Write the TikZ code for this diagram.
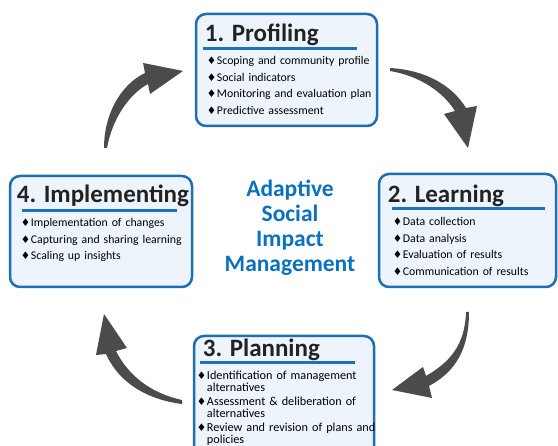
\documentclass[tikz,border=0pt]{standalone}
\usepackage{fontspec}
\setmainfont{Carlito}
\newfontfamily\symfont{DejaVu Sans}
\usetikzlibrary{positioning}

\definecolor{boxblue}{HTML}{1C6EB5}
\definecolor{boxfill}{HTML}{EEF4FC}
\definecolor{lineblue}{HTML}{1F70C1}
\definecolor{coreblue}{HTML}{0A70C0}
\definecolor{titlegray}{HTML}{222222}
\definecolor{arrowgray}{HTML}{4B4B4B}

% diamond bullet for the stage lists
\newcommand{\bul}{\makebox[10pt][l]{\symfont\fontsize{10.5}{10.5}\selectfont ♦}}

\tikzset{
    stagebox/.style={draw=boxblue, line width=2.5pt, fill=boxfill, rounded corners=10pt},
    stagetitle/.style={anchor=base west, inner sep=0pt, text=titlegray, font=\fontsize{25}{25}\selectfont\bfseries},
    stagelist/.style={anchor=base west, inner sep=0pt, text width=200pt, align=left, text=black, font=\fontsize{11.8}{16.5}\selectfont},
    titleline/.style={draw=lineblue, line width=3pt},
    coretext/.style={anchor=base, inner sep=0pt, text width=160pt, align=center, text=coreblue, font=\fontsize{23.5}{25}\selectfont\bfseries},
    cyclearrow/.style={fill=arrowgray}
}

\begin{document}
\begin{tikzpicture}[x=1pt, y=-1pt]
    \useasboundingbox (0,0) rectangle (558,446);
    \clip (0,0) rectangle (558,446);

    % the four stages
    \node[stagebox, minimum width=181pt, minimum height=112pt] (prof) at (286.5,70) {};
    \node[stagebox, minimum width=177pt, minimum height=113pt] (learn) at (467.5,230.5) {};
    \node[stagebox, minimum width=180pt, minimum height=128pt] (plan) at (284,400) {};
    \node[stagebox, minimum width=182pt, minimum height=111pt] (impl) at (101,231.5) {};

    % 1. profiling
    \node[stagetitle] (proftitle) at ([shift={(10,29)}]prof.north west) {1. Profiling};
    \draw[titleline] ([shift={(8,36)}]prof.north west) -- ([shift={(-21,36)}]prof.north east);
    \node[stagelist] (proflist) at ([shift={(12,52)}]prof.north west) {
        \bul Scoping and community profile\\
        \bul Social indicators\\
        \bul Monitoring and evaluation plan\\
        \bul Predictive assessment};

    % 2. learning
    \node[stagetitle] (learntitle) at ([shift={(10,30)}]learn.north west) {2. Learning};
    \draw[titleline] ([shift={(14,36)}]learn.north west) -- ([shift={(-12,36)}]learn.north east);
    \node[stagelist] (learnlist) at ([shift={(15,53)}]learn.north west) {
        \bul Data collection\\
        \bul Data analysis\\
        \bul Evaluation of results\\
        \bul Communication of results};

    % 3. planning
    \node[stagetitle] (plantitle) at ([shift={(10,22)}]plan.north west) {3. Planning};
    \draw[titleline] ([shift={(7,28)}]plan.north west) -- ([shift={(-20,28)}]plan.north east);
    \node[stagelist, font=\fontsize{12.2}{12}\selectfont] (planlist) at ([shift={(4,45)}]plan.north west) {
        \bul Identification of management\\
        \hspace*{10pt}alternatives\\[1.5pt]
        \bul Assessment \& deliberation of\\
        \hspace*{10pt}alternatives\\[2.5pt]
        \bul Review and revision of plans and\\
        \hspace*{10pt}policies};

    % 4. implementing
    \node[stagetitle] (impltitle) at ([shift={(8,28)}]impl.north west) {4. Implementing};
    \draw[titleline] ([shift={(13,36)}]impl.north west) -- ([shift={(-16,36)}]impl.north east);
    \node[stagelist] (impllist) at ([shift={(12,52)}]impl.north west) {
        \bul Implementation of changes\\
        \bul Capturing and sharing learning\\
        \bul Scaling up insights};

    % centre title
    \node[coretext] (core) at (290,197) {Adaptive\\Social\\Impact\\Management};

    % curved arrows round the cycle
    \fill[cyclearrow] (390,68) .. controls (425,70) and (452,85) .. (466,108)
        -- (477,106) -- (468,148) -- (444,114) -- (455,111)
        .. controls (443,92) and (420,76) .. (390,71) -- cycle;
    \fill[cyclearrow] (469,312) .. controls (469,350) and (455,372) .. (429,386)
        -- (432,398) -- (392,390) -- (423,367) -- (426,376)
        .. controls (450,362) and (465,345) .. (466,312) -- cycle;
    \fill[cyclearrow] (182,404) .. controls (150,400) and (120,385) .. (106,354)
        -- (96,355) -- (104,314) -- (127,348) -- (116,351)
        .. controls (128,375) and (150,393) .. (182,400) -- cycle;
    \fill[cyclearrow] (104,148) .. controls (104,115) and (120,85) .. (145,73)
        -- (143,63) -- (183,71) -- (150,94) -- (148,84)
        .. controls (128,95) and (112,120) .. (107,148) -- cycle;
\end{tikzpicture}
\end{document}
